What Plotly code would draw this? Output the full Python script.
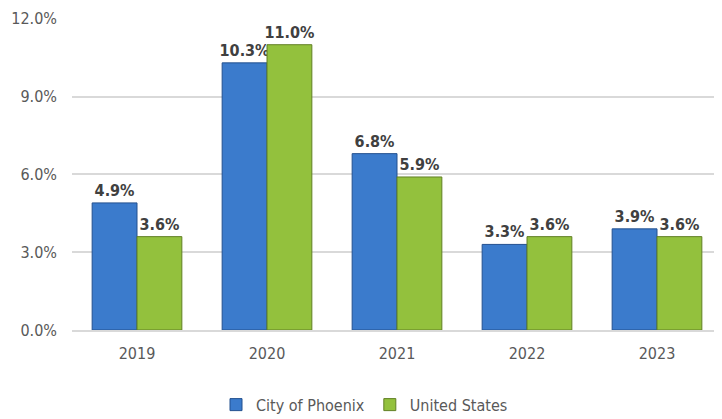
import plotly.graph_objects as go

years = ["2019", "2020", "2021", "2022", "2023"]
phoenix = [4.9, 10.3, 6.8, 3.3, 3.9]
us = [3.6, 11.0, 5.9, 3.6, 3.6]
series_names = ["City of Phoenix", "United States"]
y_ticks = [0, 3, 6, 9, 12]
y_tick_labels = ["0.0%", "3.0%", "6.0%", "9.0%", "12.0%"]

FONT = "DejaVu Sans Condensed, Liberation Sans Narrow, Arial Narrow, sans-serif"

fig = go.Figure()
fig.add_trace(go.Bar(
    x=years, y=phoenix, name=series_names[0],
    marker=dict(color="#3B7BCC", line=dict(color="#23508F", width=1)),
    text=[f"{v:.1f}%" for v in phoenix], textposition="outside",
    textfont=dict(family=FONT, size=16, color="#404040", weight="bold"),
    cliponaxis=False, constraintext="none",
))
fig.add_trace(go.Bar(
    x=years, y=us, name=series_names[1],
    marker=dict(color="#93C13D", line=dict(color="#617F24", width=1)),
    text=[f"{v:.1f}%" for v in us], textposition="outside",
    textfont=dict(family=FONT, size=16, color="#404040", weight="bold"),
    cliponaxis=False, constraintext="none",
))

# page body has an 8px default margin: figure is offset by 8px in the window
fig.update_layout(
    width=714, height=411,
    margin=dict(l=64, r=0, t=10, b=89, autoexpand=False),
    paper_bgcolor="white", plot_bgcolor="white",
    barmode="group", bargap=0.31, bargroupgap=0,
    font=dict(family=FONT, color="#595959", size=16),
    showlegend=True,
    legend=dict(orientation="h", x=0.45, xanchor="center", y=-0.185, yanchor="top",
                font=dict(size=16, color="#595959"), itemwidth=30),
)
fig.update_yaxes(range=[0, 12.03], tickvals=y_ticks, ticktext=y_tick_labels, automargin=False,
                 showgrid=True, gridcolor="#D9D9D9", gridwidth=1.5, zeroline=False,
                 ticks="", ticklabelstandoff=14, tickfont=dict(size=16, color="#595959"))
fig.update_xaxes(showline=True, linecolor="#D9D9D9", linewidth=1.5, ticks="", automargin=False,
                 ticklabelstandoff=8, tickfont=dict(size=16, color="#595959"))

fig.write_html("out.html")
